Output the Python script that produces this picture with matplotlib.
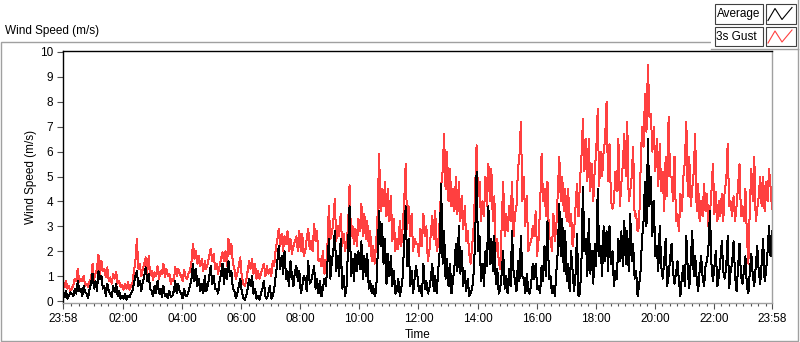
import numpy as np
import matplotlib.pyplot as plt
from matplotlib.patches import Rectangle
from matplotlib.lines import Line2D

plt.rcParams['font.family'] = ['Liberation Sans', 'DejaVu Sans']
plt.rcParams['font.size'] = 8.5

# minutes after 23:58; readings on the 6-minute marks and 3 minutes after them
step_min = 6

gust = [0.7, 0.8, 0.6, 0.5, 0.9, 1.3, 0.9, 1.0, 0.7, 0.8,
        1.5, 1.1, 1.85, 1.6, 1.3, 1.35, 0.95, 1.1, 1.15, 0.8,
        0.65, 0.7, 0.75, 0.6, 1.2, 2.5, 1.5, 1.3, 1.75, 1.8,
        1.2, 1.15, 1.4, 1.2, 1.5, 1.3, 1.1, 0.9, 1.35, 1.3,
        1.0, 1.25, 0.9, 1.2, 2.3, 2.0, 1.8, 1.7, 1.6, 1.5,
        2.1, 1.9, 1.5, 1.4, 1.95, 2.0, 2.5, 2.3, 1.3, 1.1,
        1.75, 0.7, 0.8, 1.6, 1.7, 1.5, 1.2, 1.1, 1.5, 1.4,
        1.3, 1.6, 2.1, 2.9, 2.7, 2.6, 2.8, 2.5, 2.2, 2.6,
        2.8, 2.7, 2.0, 2.9, 2.4, 3.1, 2.8, 1.7, 2.0, 1.3,
        3.8, 2.7, 4.1, 3.0, 3.5, 2.7, 2.4, 4.65, 3.0, 2.9,
        3.3, 3.9, 3.5, 3.2, 2.8, 2.2, 2.3, 5.9, 4.5, 4.8,
        4.5, 4.2, 3.3, 2.5, 3.2, 3.0, 5.5, 3.8, 3.5, 2.5,
        2.3, 2.9, 3.5, 3.0, 2.0, 3.4, 3.6, 2.3, 4.6, 6.7,
        6.0, 5.3, 4.5, 5.0, 4.8, 4.2, 3.8, 2.8, 1.5, 3.0,
        6.25, 4.8, 4.0, 5.0, 5.5, 5.3, 4.2, 2.5, 1.3, 4.8,
        3.5, 3.8, 4.8, 3.5, 5.3, 7.2, 5.0, 4.2, 2.3, 3.0,
        3.6, 2.5, 5.9, 4.5, 4.8, 2.5, 3.5, 3.0, 5.8, 5.0,
        4.5, 4.5, 3.5, 2.8, 4.7, 4.8, 7.3, 6.5, 6.5, 5.5,
        5.3, 7.7, 6.0, 6.0, 8.0, 6.3, 3.7, 5.2, 6.5, 4.7,
        6.7, 7.2, 4.4, 6.2, 3.5, 3.0, 7.0, 8.3, 9.5, 7.5,
        7.0, 6.5, 6.3, 5.2, 5.8, 7.4, 5.0, 5.8, 3.5, 4.3,
        5.0, 7.2, 5.8, 4.5, 6.7, 4.7, 4.0, 4.7, 4.3, 3.5,
        5.5, 4.4, 4.0, 4.3, 4.5, 6.3, 4.0, 4.2, 3.8, 5.5,
        3.8, 4.5, 1.5, 5.3, 5.8, 3.7, 5.0, 5.0, 4.8, 5.3,
        3.7]

gust_mid = [0.55, 0.5, 0.4, 0.65, 0.8, 0.75, 0.8, 0.6, 0.55, 0.9,
            0.85, 1.3, 1.0, 1.2, 0.95, 0.8, 0.7, 0.9, 0.7, 0.55,
            0.45, 0.5, 0.45, 0.7, 1.6, 1.3, 1.0, 1.5, 1.1, 1.05,
            0.85, 1.0, 0.9, 1.1, 0.95, 1.0, 0.7, 0.8, 1.0, 1.1,
            0.8, 0.95, 1.1, 1.6, 1.7, 1.5, 1.4, 1.2, 1.3, 1.8,
            1.6, 1.3, 1.1, 1.7, 1.6, 1.4, 1.9, 1.5, 0.9, 1.4,
            1.0, 0.6, 1.2, 1.3, 1.1, 0.9, 0.9, 1.3, 1.0, 1.1,
            1.0, 1.4, 2.4, 2.2, 2.0, 2.3, 2.0, 1.9, 2.4, 2.0,
            2.0, 1.8, 2.5, 2.1, 2.0, 2.4, 1.6, 1.4, 1.1, 2.2,
            2.5, 3.2, 2.4, 2.6, 2.2, 2.0, 3.0, 2.6, 2.3, 2.2,
            2.8, 2.6, 2.5, 2.2, 1.6, 1.5, 3.5, 3.6, 3.8, 3.4,
            3.2, 2.4, 2.0, 2.1, 2.2, 4.0, 2.9, 2.6, 2.0, 2.3,
            1.8, 2.2, 2.6, 1.6, 2.7, 2.5, 2.0, 3.2, 5.2, 4.5,
            4.0, 3.8, 3.6, 3.5, 3.2, 2.9, 2.4, 1.9, 2.2, 4.5,
            4.2, 3.2, 3.4, 3.8, 4.0, 3.2, 2.0, 1.6, 3.0, 2.6,
            2.8, 3.2, 2.6, 3.8, 5.8, 4.0, 3.0, 2.0, 2.4, 2.6,
            1.8, 3.8, 4.0, 3.4, 2.6, 2.0, 2.4, 4.4, 4.0, 3.6,
            3.2, 3.0, 2.2, 3.8, 3.4, 5.8, 5.2, 4.8, 4.4, 4.0,
            6.0, 4.6, 5.0, 6.5, 4.8, 4.0, 4.0, 4.4, 3.8, 5.5,
            5.0, 4.0, 5.0, 3.4, 2.8, 5.2, 6.2, 6.8, 7.4, 6.0,
            5.2, 4.6, 4.4, 3.6, 4.2, 5.0, 4.0, 3.2, 2.8, 3.6,
            5.6, 4.2, 3.8, 5.2, 3.6, 3.2, 3.4, 3.6, 3.0, 4.4,
            3.5, 3.2, 3.4, 3.2, 4.8, 3.8, 3.4, 3.2, 4.6, 3.4,
            3.2, 2.6, 3.8, 4.0, 3.2, 4.2, 3.8, 3.6, 4.0, 4.6]

average = [0.3, 0.4, 0.2, 0.3, 0.5, 0.8, 0.5, 0.6, 0.3, 0.5,
           1.1, 0.8, 1.2, 1.0, 0.6, 0.7, 0.3, 0.6, 0.7, 0.4,
           0.2, 0.3, 0.2, 0.3, 0.7, 1.2, 0.8, 0.75, 1.35, 1.1,
           0.4, 0.6, 0.8, 0.5, 0.6, 0.3, 0.4, 0.2, 0.8, 0.7,
           0.3, 0.5, 0.2, 0.6, 1.5, 1.3, 0.9, 0.7, 1.0, 0.6,
           1.4, 1.0, 0.5, 0.8, 1.5, 1.3, 1.6, 1.2, 0.4, 0.3,
           0.9, 0.1, 0.2, 0.9, 1.0, 0.5, 0.2, 0.3, 0.8, 0.1,
           0.6, 0.2, 1.0, 2.2, 1.8, 2.0, 1.2, 1.6, 0.6, 1.4,
           1.2, 0.6, 0.9, 1.6, 0.8, 1.4, 0.9, 0.8, 0.5, 0.6,
           2.5, 1.6, 2.8, 1.8, 2.5, 1.0, 0.6, 3.8, 1.7, 1.9,
           2.0, 2.4, 1.8, 1.9, 0.8, 0.6, 0.4, 3.6, 3.1, 2.5,
           1.9, 1.8, 1.2, 0.4, 0.2, 1.0, 3.8, 2.5, 1.2, 0.9,
           1.0, 0.6, 1.5, 0.8, 0.5, 1.5, 1.0, 1.2, 4.7, 2.8,
           1.7, 1.5, 0.8, 2.3, 3.0, 2.0, 1.2, 0.9, 0.3, 1.1,
           5.2, 2.6, 1.5, 2.0, 3.8, 2.5, 2.6, 1.3, 0.5, 2.0,
           1.0, 1.3, 2.8, 0.8, 1.6, 2.6, 0.9, 1.1, 0.3, 1.5,
           1.5, 0.6, 1.4, 2.2, 3.2, 1.0, 0.6, 1.2, 3.9, 3.3,
           2.8, 1.5, 2.0, 0.4, 2.7, 0.3, 4.6, 2.5, 3.3, 2.0,
           2.3, 4.5, 2.2, 3.0, 2.8, 3.0, 2.0, 1.2, 2.5, 2.8,
           3.2, 2.8, 3.5, 2.3, 1.2, 0.6, 2.5, 4.8, 6.5, 5.0,
           4.0, 2.2, 3.0, 0.9, 2.5, 1.0, 2.3, 0.7, 1.6, 0.2,
           1.4, 2.6, 0.5, 2.8, 1.8, 0.4, 1.8, 0.6, 1.6, 3.6,
           0.8, 2.0, 1.0, 2.4, 0.9, 2.6, 1.2, 2.4, 0.4, 2.3,
           0.7, 1.8, 0.3, 1.9, 0.6, 2.2, 0.7, 2.5, 1.2, 3.0,
           2.8]

average_mid = [0.15, 0.1, 0.35, 0.2, 0.3, 0.4, 0.2, 0.35, 0.1, 0.7,
               0.5, 0.4, 0.9, 0.5, 0.2, 0.4, 0.15, 0.35, 0.2, 0.1,
               0.1, 0.05, 0.15, 0.4, 1.0, 0.6, 0.4, 1.0, 0.8, 0.5,
               0.2, 0.3, 0.3, 0.15, 0.2, 0.1, 0.15, 0.4, 0.3, 0.4,
               0.1, 0.2, 0.4, 0.9, 0.8, 0.6, 0.4, 0.3, 0.4, 1.0,
               0.7, 0.5, 0.3, 1.1, 0.7, 0.9, 1.0, 0.5, 0.1, 0.6,
               0.4, 0.05, 0.5, 0.6, 0.3, 0.1, 0.05, 0.5, 0.2, 0.3,
               0.1, 0.5, 1.5, 1.3, 1.1, 0.9, 0.6, 1.0, 1.2, 0.8,
               0.3, 1.0, 0.4, 0.7, 1.1, 0.5, 0.3, 0.2, 0.9, 1.5,
               0.9, 2.0, 1.2, 1.0, 0.5, 0.2, 2.2, 1.0, 0.8, 1.2,
               1.3, 0.9, 1.0, 0.5, 0.3, 0.2, 1.8, 2.2, 1.5, 0.7,
               1.0, 0.6, 0.3, 0.9, 0.5, 2.4, 1.4, 0.6, 0.3, 1.4,
               0.4, 0.2, 0.5, 0.3, 0.9, 0.4, 0.3, 2.0, 1.5, 0.9,
               0.6, 0.3, 1.4, 1.2, 1.1, 0.6, 0.4, 0.2, 0.5, 2.4,
               2.0, 0.8, 0.6, 1.4, 1.5, 1.2, 0.7, 0.3, 1.1, 0.5,
               0.3, 0.6, 1.2, 0.4, 0.8, 1.0, 0.3, 0.4, 0.7, 0.9,
               0.5, 0.3, 0.8, 1.0, 0.9, 0.3, 0.2, 2.0, 1.8, 1.2,
               0.8, 0.4, 1.2, 1.1, 0.2, 1.6, 2.0, 1.0, 1.1, 0.7,
               1.4, 1.8, 1.0, 1.6, 1.2, 1.5, 0.6, 0.9, 1.6, 1.4,
               1.5, 1.2, 1.6, 0.9, 0.2, 1.2, 3.2, 3.0, 3.8, 2.6,
               1.8, 1.2, 1.4, 1.6, 0.6, 1.7, 1.2, 1.1, 0.8, 1.0,
               0.6, 1.2, 1.6, 1.0, 0.9, 1.2, 1.0, 1.4, 2.2, 1.5,
               1.4, 0.6, 1.6, 1.2, 1.4, 0.5, 1.5, 1.0, 1.3, 1.0,
               1.2, 0.6, 1.2, 1.0, 1.4, 1.2, 1.5, 0.8, 2.0, 1.8]

tick_labels = ['23:58', '02:00', '04:00', '06:00', '08:00', '10:00', '12:00',
               '14:00', '16:00', '18:00', '20:00', '22:00', '23:58']


def merge(on_mark, between):
    s = np.empty(len(on_mark) + len(between))
    s[0::2] = on_mark
    s[1::2] = between
    return s


gust_s = merge(gust, gust_mid)
avg_s = merge(average, average_mid)
t = np.arange(len(gust_s)) * step_min / 2

W, H = 800, 342
fig = plt.figure(figsize=(W / 100, H / 100), dpi=100)


def fx(x):
    return x / W


def fy(y):
    return 1 - y / H


# outer panel frame
fig.add_artist(Rectangle((fx(0.5), fy(340.5)), fx(797), (340.5 - 42) / H,
                         transform=fig.transFigure, fill=False,
                         ec='#a0a0a0', lw=1))
fig.text(fx(5), fy(31), 'Wind Speed (m/s)', va='center', ha='left')

ax = fig.add_axes([fx(63), fy(303), fx(772 - 63), (303 - 51) / H])
ax.plot(t, gust_s, color='#ff4040', lw=0.72, antialiased=False)
ax.plot(t, avg_s, color='black', lw=0.72, antialiased=False)

ax.set_xlim(0, 1440)
ax.set_ylim(-0.08, 10.04)
ax.set_yticks(range(0, 11))
major = [0] + [122 + 120 * i for i in range(11)] + [1440]
ax.set_xticks(major)
ax.set_xticklabels(tick_labels)
ax.set_xticks([m for m in range(17, 1440, 15) if m not in major], minor=True)
ax.tick_params(which='major', length=4, width=0.8, color='#505050', pad=3)
ax.tick_params(which='minor', length=2.5, width=0.8, color='#505050')

for side in ['left', 'top']:
    ax.spines[side].set_color('black')
for side in ['right', 'bottom']:
    ax.spines[side].set_color('#a0a0a0')
for s in ax.spines.values():
    s.set_linewidth(1)

ax.set_xlabel('Time', labelpad=3)
ax.set_ylabel('Wind Speed (m/s)', labelpad=2)

# legend at top right
fig.add_artist(Rectangle((fx(711), fy(48.5)), fx(89), 48.5 / H,
                         transform=fig.transFigure, fc='white', ec='none'))
fig.add_artist(Line2D([fx(711), fx(797.5)], [fy(48.5), fy(48.5)],
                      transform=fig.transFigure, color='#a0a0a0', lw=1))
fig.add_artist(Line2D([fx(797.5), fx(797.5)], [fy(0), fy(48.5)],
                      transform=fig.transFigure, color='#a0a0a0', lw=1))
for row, (name, col) in enumerate([('Average', 'black'), ('3s Gust', '#ff4040')]):
    y0 = 4.5 + row * 22.5
    fig.add_artist(Rectangle((fx(714.5), fy(y0 + 19)), fx(48), 19 / H,
                             transform=fig.transFigure, fc='white',
                             ec='#404040', lw=0.8))
    fig.text(fx(716.5), fy(y0 + 9.5), name, va='center', ha='left')
    fig.add_artist(Rectangle((fx(765.5), fy(y0 + 19)), fx(30), 19 / H,
                             transform=fig.transFigure, fc='white',
                             ec='#404040', lw=0.8))
    zx = [768, 775, 782, 792]
    zy = [y0 + 16, y0 + 4, y0 + 15, y0 + 3]
    fig.add_artist(Line2D([fx(v) for v in zx], [fy(v) for v in zy],
                          transform=fig.transFigure, color=col, lw=0.8))

fig.savefig('out.png', dpi=100)
